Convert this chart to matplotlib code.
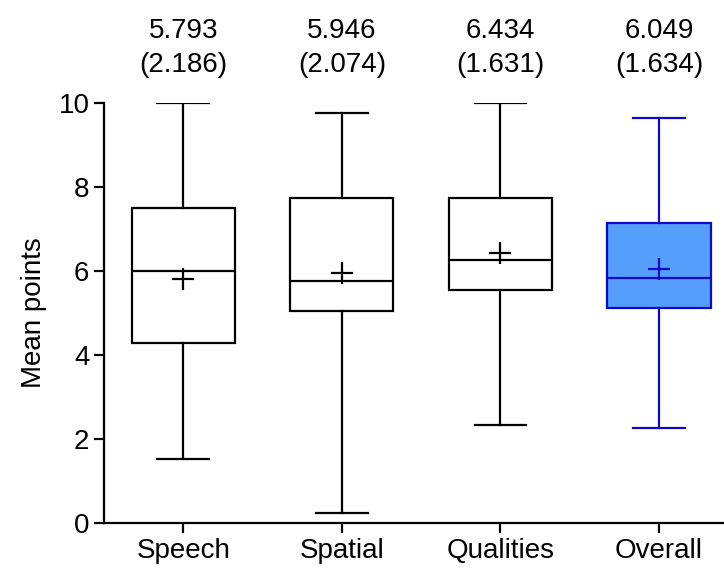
import matplotlib
matplotlib.use("Agg")
import matplotlib.pyplot as plt

plt.rcParams['font.family'] = ['Liberation Sans', 'DejaVu Sans']

# values
categories = ["Speech", "Spatial", "Qualities", "Overall"]
whisker_low = [1.51, 0.24, 2.34, 2.27]
q1 = [4.28, 5.04, 5.54, 5.11]
median = [6.00, 5.75, 6.25, 5.83]
q3 = [7.49, 7.73, 7.73, 7.13]
whisker_high = [10.0, 9.75, 10.0, 9.64]
means = [5.793, 5.946, 6.434, 6.049]
sds = [2.186, 2.074, 1.631, 1.634]

stats = []
for i, name in enumerate(categories):
    stats.append(dict(label=name, whislo=whisker_low[i], q1=q1[i], med=median[i],
                      q3=q3[i], whishi=whisker_high[i], mean=means[i], fliers=[]))

fig = plt.figure(figsize=(7.24, 5.70), dpi=100)
ax = fig.add_axes([0.1436, 0.0825, 0.8564, 0.7375])

lw = 1.6
fs = 20
positions = [1, 2, 3, 4]
bp = ax.bxp(stats, positions=positions, widths=0.65, showmeans=True,
            patch_artist=True, showfliers=False,
            boxprops=dict(linewidth=lw, edgecolor='black', facecolor='white'),
            whiskerprops=dict(linewidth=lw, color='black'),
            capprops=dict(linewidth=lw, color='black'),
            medianprops=dict(linewidth=lw, color='black'),
            meanprops=dict(marker='+', markersize=16, markeredgewidth=lw,
                           markeredgecolor='black'))

# last box is highlighted in blue
blue_edge = '#0A0AC8'
bp['boxes'][3].set_facecolor('#559EFB')
bp['boxes'][3].set_edgecolor(blue_edge)
for art in bp['whiskers'][6:8] + bp['caps'][6:8]:
    art.set_color(blue_edge)
bp['medians'][3].set_color(blue_edge)
bp['means'][3].set_markeredgecolor(blue_edge)

for x, m, s in zip(positions, means, sds):
    ax.text(x, 11.3, f"{m:.3f}\n({s:.3f})", ha='center', va='center',
            fontsize=fs, clip_on=False, linespacing=1.4)

ax.set_xlim(0.5, 4.41)
ax.set_ylim(0, 10)
ax.set_yticks([0, 2, 4, 6, 8, 10])
ax.set_xticks(positions)
ax.set_xticklabels(categories)
ax.set_ylabel("Mean points", fontsize=fs, labelpad=8)
ax.tick_params(axis='both', labelsize=fs, width=lw, length=7, direction='out')
ax.spines['top'].set_visible(False)
ax.spines['right'].set_visible(False)
ax.spines['left'].set_linewidth(lw)
ax.spines['bottom'].set_linewidth(lw)

fig.savefig("out.png", dpi=100)
